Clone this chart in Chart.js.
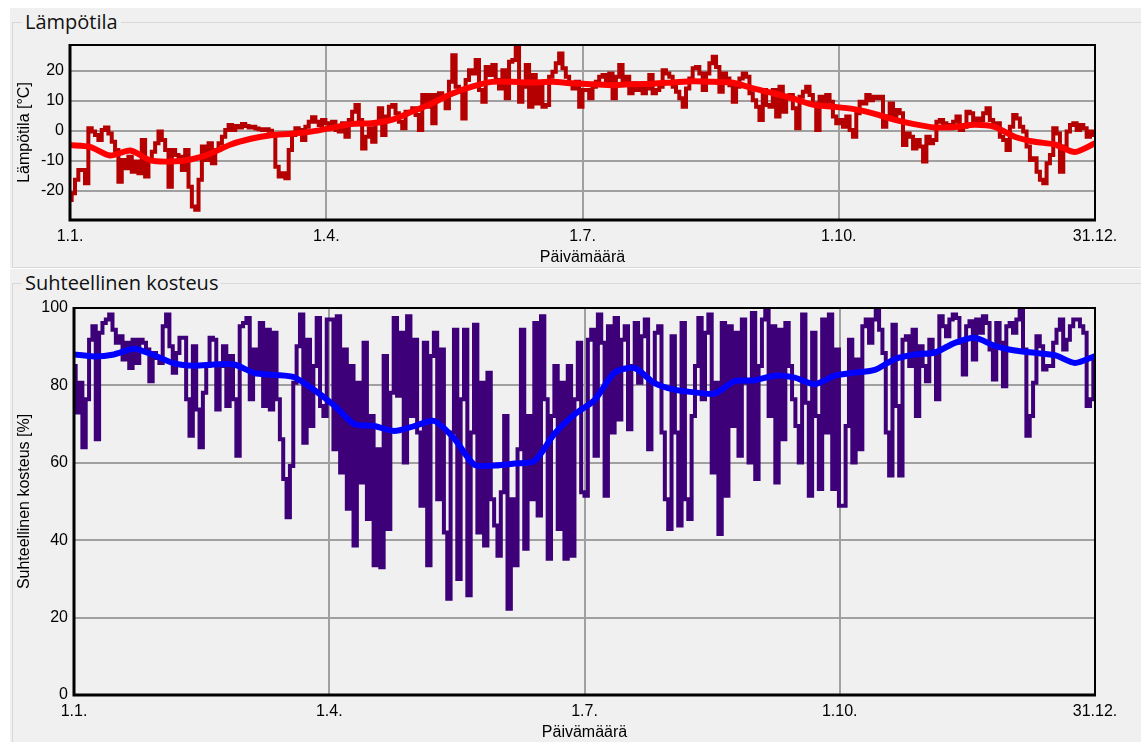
<!DOCTYPE html>
<html>
<head>
<meta charset="utf-8">
<script src="https://cdn.jsdelivr.net/npm/chart.js@4.4.0/dist/chart.umd.min.js"></script>
<style>
html,body{margin:0;padding:0;background:#fff;width:1141px;height:742px;overflow:hidden;position:relative;}
.grp{position:absolute;background:#f0f0f0;}
.frame{position:absolute;border:1px solid #d8d8d8;}
.gtitle{position:absolute;font-family:'Open Sans','Noto Sans',sans-serif;font-size:20px;color:#111;background:#f0f0f0;padding:0 3px;line-height:24px;white-space:nowrap;}
canvas{position:absolute;}
</style>
</head>
<body>
<div class="grp" style="left:10px;top:8px;width:1131px;height:260px"></div>
<div class="frame" style="left:12px;top:22px;width:1160px;height:244px"></div>
<div class="gtitle" style="left:22px;top:10px">Lämpötila</div>
<div class="grp" style="left:10px;top:269px;width:1131px;height:473px"></div>
<div class="frame" style="left:12px;top:283px;width:1160px;height:500px"></div>
<div class="gtitle" style="left:22px;top:271px">Suhteellinen kosteus</div>
<canvas id="c1" width="1131" height="243" style="left:10px;top:25px;width:1131px;height:243px"></canvas>
<canvas id="c2" width="1131" height="452" style="left:10px;top:290px;width:1131px;height:452px"></canvas>
<script>
// ---- tick data ----
const xTickDays = [0, 91, 182, 273, 364];
const xTickLabels = ['1.1.', '1.4.', '1.7.', '1.10.', '31.12.'];
const tempTicks = [-20, -10, 0, 10, 20];
const humTicks = [0, 20, 40, 60, 80, 100];
const tempRange = [-29.7, 28.7];
const humRange = [0, 100];

// ---- temperature (°C), evenly spaced samples over the year ----
const tempRaw = [
-23, -20.8, -16.3, -13, -13, -17.4, 0.9, -0.2, -1.3, -3,
0.3, 1.2, -0.8, -3.6, -6.3, -16.9, -9.7, -12.4, -8.6, -13.6,
-10.2, -14.1, -3, -15.2, -9.7, -6.9, -4.1, -0.2, -3, -6.3,
-18.6, -6.3, -8, -8.6, -13, -6.3, -18.6, -25.2, -26.3, -16.3,
-5.2, -9.7, -4.1, -10.8, -6.3, -4.1, -1.9, 0.3, 2, 0.3,
1.7, 1.2, 2.3, 1.7, 1.2, 1.4, 0.8, 0.6, 0.3, 0.6,
0.1, -1.3, -11.9, -15.2, -14.1, -15.8, -6.3, -1.3, 0.9, 0.3,
-3, 1.4, 3.1, 4.6, 3.1, 2, 3.7, 2.6, 1.4, 3.1,
0.3, -0.2, 2.6, -1.9, 3.7, 6.4, 8.7, 3.7, -5.8, -1.9,
0.9, -3.6, 2.6, 7.6, -1.3, 4.8, 8.1, 8.7, 5.9, 3.1,
0.9, 6.4, 6.4, 7.6, 5.3, 0.3, 12, 8.1, 12, 2.6,
12, 12.6, 10.9, 7.6, 16.4, 25.3, 14.8, 13.1, 4.2, 17,
20.3, 19.2, 23.7, 13.7, 9.8, 21.4, 18.7, 22, 17, 14.2,
20.3, 10.9, 23.1, 23.7, 28.7, 9.8, 14.8, 22, 8.1, 18.7,
9.2, 16.4, 8.1, 8.7, 18.1, 19.8, 22.6, 25.9, 20.9, 18.1,
15.9, 14.2, 16.4, 8.1, 13.7,
13.7, 10.9, 14.8, 16.4, 18.1, 18.7, 15.9, 19.2, 10.9, 18.1,
22, 15.9, 18.1, 12.6, 15.9, 13.7, 14.8, 12.6, 14.2, 18.7,
12.6, 13.7, 14.8, 20.3, 19.2, 18.1, 14.8, 13.1, 10.9, 8.1,
14.2, 17.5, 20.9, 21.4, 19.2, 13.7, 19.2, 22.6, 24.8, 21.4,
13.1, 19.2, 17.5, 15.3, 9.8, 14.8, 17.5, 19.2, 18.1, 12.6,
10.3, 8.1, 3.7, 13.7, 8.7, 8.1, 13.7, 4.8, 14.8, 6.4,
10.9, 12, 7.6, 0.9, 11.4, 13.1, 14.8, 12, 9.2, 0.3,
11.4, 8.7, 12, 9.8, 4.8, 2.6, 3.7, 1.4, 4.8, 0.3,
-1.9, 5.9, 9.8, 9.2, 12, 10.3, 11.4, 10.9, 11.4, 1.4,
4.8, 9.2, 4.8, 7, 5.9, -4.7, -0.8, -1.9, -5.8, -3,
-5.2, -10.2, -1.9, -4.1, -3, 3.1, 3.7, 2.6, 2, 0.9,
3.1, 4.8, 0.3, 1.4, 6.4, 5.9, 3.7, 4.2, 3.7, 5.9,
7.6, 3.7, 2, 2.6, -1.9, -3, -6.3, 1.4, 5.3, 4.2,
1.4, -0.2, -5.2, -9.7, -9.1, -13.6, -16.3, -17.4, -10.8, -8,
0.9, -0.8, -13.6, -5.2, -0.2, 2, 2.6, 0.3, 2, 0.9,
-1.9, -0.2, -1.3
];
const tempSmooth = [
-4.7, -5.3, -8.2, -6.5, -9.8, -10.2, -9.5, -7.5, -4.5, -2.6,
-1.4, -0.9, -0.2, 1, 2.3, 2.6, 3.7, 6.4, 9.2, 12.4,
14.8, 16.4, 16.4, 16.2, 16.4, 15.9, 15.6, 15.3, 15.6, 15.8,
16.2, 16.6, 16.4, 16.1, 14.2, 12.6, 10.8, 8.7, 8.1, 7.3,
5.8, 3.8, 2.3, 1.2, 1.3, 2.1, 1.4, -1.9, -3.6, -4.5,
-7, -4.1
];

// ---- relative humidity (%), evenly spaced samples over the year ----
const humRaw = [
85, 73, 80.7, 64, 76.4, 91.8, 95.3, 66.1, 93.6, 96.1,
97, 98.3, 94.4, 91, 92.7, 86.7, 91, 84.5, 91.8, 85.8,
91.8, 91, 89.3, 81.1, 88.4, 87.1, 85.8, 95.3, 98.3, 90.1,
83.3, 88.4, 92.3, 92.3, 76.4, 67, 90.1, 73.8, 64, 78.1,
85, 92.3, 91.8, 73.8, 85, 90.1, 74.7, 87.6, 76.4, 61.8,
95.3, 96.1, 97.4, 76.4, 89.3, 83.3, 96.1, 74.7, 94.4, 73.8,
93.6, 76.4, 66.1, 55.8, 45.9, 59.2, 80.7, 90.1, 98.3, 65.2,
91.8, 69.5, 85, 97.4, 74.7, 72.1, 97,
97, 63.5, 97.9, 57.5, 89.3, 48.1, 85, 38.6, 80.7, 54.9,
91, 45.5, 72.1, 33.5, 63.5, 33, 87.6, 42.9, 78.1, 97.4,
77.3, 93.6, 60.1, 97.9, 72.1, 91.8, 67.8, 48.9, 91, 33.5,
87.6, 93.6, 50.6, 89.3, 42, 24.9, 67.8, 94.4, 30, 76.4,
94.4, 25.8, 67.8, 95.7, 42, 80.7, 38.6, 83.3, 50.6, 43.8,
36, 52.4, 72.1, 22.3, 50.6, 33.5, 63.5, 94.4, 37.8, 72.1,
50.6, 96.1, 46.4, 97.9, 76.4, 35.2, 72.1, 85, 42.9, 80.7,
35.2, 85, 36, 76.4, 91, 52.4,
51.5, 91.8, 94.4, 61.8, 98.3, 91, 51.5, 95.3, 67.8, 97.4,
71.2, 91.8, 95.3, 68.7, 85, 96.1, 80.7, 92.7, 97, 63.5,
80.7, 93.6, 95.3, 67.8, 50.6, 42.9, 92.7, 67.8, 43.8, 96.1,
50.6, 45.5, 72.1, 85, 97.4, 76.4, 93.6, 98.3, 57.5, 80.7,
41.6, 96.1, 51.5, 95.3, 69.5, 93.6, 61.8, 97, 80.7, 60.1,
98.7, 55.8, 85, 97, 99.6, 72.1, 95.3, 54.9, 94.4, 66.1,
96.1, 85, 76.4, 69.5, 60.1, 98.3, 75.5, 51.5, 93.6, 72.1,
53.2, 97, 67.8, 98.3, 53.2, 89.3, 48.9,
48.9, 69.5, 91.8, 60.1, 86.7, 63.5, 95.3, 97, 91, 97,
99.6, 94.4, 88.4, 67.8, 56.7, 95.7, 74.7, 56.7, 91.8, 92.7,
85, 94.4, 72.1, 90.1, 85, 81.1, 91.8, 88.4, 76.4, 97.9,
95.3, 92.7, 97, 98.3, 97.4, 91, 82.8, 95.3, 96.6, 86.7,
97, 93.6, 97.9, 96.1, 89.3, 81.5, 96.1, 91, 79.8, 95.3,
96.1, 93.6, 97, 99.6, 89.3, 67, 72.1, 80.7, 92.7, 90.1,
84.1, 85, 85, 91, 94.4, 97, 89.3, 91.8, 95.3, 97,
97, 95.3, 93.6, 74.7, 76.4, 86.7
];
const humSmooth = [
88, 87.5, 88, 89.5, 87.8, 85.7, 85.1, 85.4, 85.4, 83.2,
82.7, 82.1, 78.8, 74.8, 70, 69.5, 68.2, 69.5, 70.8, 66.2,
59.5, 59.3, 59.8, 60.5, 67.5, 72.5, 76.2, 83.3, 84.5, 80.6,
78.9, 78.2, 77.9, 81.1, 81.3, 82.5, 82, 80.3, 82.5, 83.3,
84, 86.8, 88, 88.5, 91, 92.3, 90.2, 89, 88.4, 87.8,
85.8, 87.6
];

// ---- helpers ----
const yearEnd = xTickDays[xTickDays.length - 1];
function spread(vals) {
  const n = vals.length;
  return vals.map((v, i) => ({ x: i * yearEnd / (n - 1), y: v }));
}

Chart.defaults.font.family = "'Liberation Sans', Arial, sans-serif";
Chart.defaults.font.size = 16;
Chart.defaults.color = '#000';

const framePlugin = {
  id: 'frame',
  afterDatasetsDraw(chart) {
    const { ctx, chartArea: a } = chart;
    ctx.save();
    ctx.strokeStyle = '#000';
    ctx.lineWidth = 2;
    ctx.strokeRect(a.left, a.top, a.right - a.left, a.bottom - a.top);
    ctx.lineWidth = 3;
    ctx.beginPath();
    ctx.moveTo(a.left, a.top - 1);
    ctx.lineTo(a.left, a.bottom);
    ctx.lineTo(a.right + 1, a.bottom);
    ctx.stroke();
    ctx.restore();
  }
};

function makeChart(id, cfg) {
  return new Chart(document.getElementById(id), {
    type: 'line',
    data: {
      datasets: [
        { data: spread(cfg.smooth), borderColor: cfg.smoothColor, borderWidth: 6, pointRadius: 0, tension: 0.25, order: 0 },
        { data: spread(cfg.raw), borderColor: cfg.rawColor, borderWidth: 4, pointRadius: 0, stepped: 'middle', borderJoinStyle: 'miter', order: 1 }
      ]
    },
    options: {
      responsive: false,
      animation: false,
      events: [],
      layout: { padding: { left: 0, top: cfg.padTop, right: 46, bottom: 0 } },
      plugins: { legend: { display: false }, tooltip: { enabled: false } },
      scales: {
        x: {
          type: 'linear', min: 0, max: yearEnd,
          afterFit: s => { s.height = cfg.xHeight; },
          afterBuildTicks: s => { s.ticks = xTickDays.map(v => ({ value: v })); },
          ticks: { callback: (v, i) => xTickLabels[i], padding: 7, maxRotation: 0, autoSkip: false, color: '#000' },
          grid: { color: '#a0a0a0', lineWidth: 2, drawTicks: false },
          border: { display: false },
          title: { display: true, text: 'Päivämäärä', color: '#000', padding: { top: 0, bottom: cfg.xTitlePad } }
        },
        y: {
          type: 'linear', min: cfg.range[0], max: cfg.range[1],
          afterFit: s => { s.width = cfg.yWidth; },
          afterBuildTicks: s => { s.ticks = cfg.ticks.map(v => ({ value: v })); },
          ticks: { padding: 6, color: '#000' },
          grid: { color: '#a0a0a0', lineWidth: 2, drawTicks: false },
          border: { display: false },
          title: { display: true, text: cfg.yTitle, color: '#000', padding: { top: 5, bottom: 0 } }
        }
      }
    },
    plugins: [framePlugin]
  });
}

makeChart('c1', {
  raw: tempRaw, smooth: tempSmooth, rawColor: '#b40000', smoothColor: '#ff0000',
  range: tempRange, ticks: tempTicks, yTitle: 'Lämpötila [°C]',
  padTop: 20, xHeight: 48, yWidth: 60, xTitlePad: 1
});
makeChart('c2', {
  raw: humRaw, smooth: humSmooth, rawColor: '#3d0079', smoothColor: '#0000ff',
  range: humRange, ticks: humTicks, yTitle: 'Suhteellinen kosteus [%]',
  padTop: 18, xHeight: 47, yWidth: 64, xTitlePad: 0
});
</script>
</body>
</html>
